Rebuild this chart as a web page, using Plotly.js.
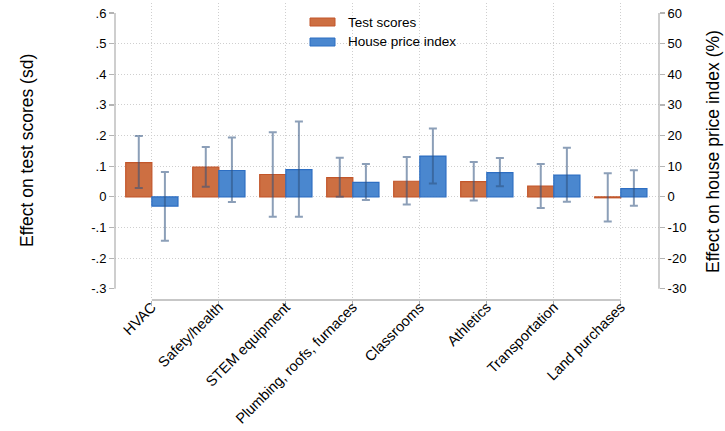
<!DOCTYPE html>
<html>
<head>
<meta charset="utf-8">
<script src="https://cdn.plot.ly/plotly-3.0.1.min.js"></script>
<style>html,body{margin:0;padding:0;background:#fff;}#chart{width:725px;height:431px;}</style>
</head>
<body>
<div id="chart"></div>
<script>
// ---- Data ----
const categories = ["HVAC", "Safety/health", "STEM equipment", "Plumbing, roofs, furnaces", "Classrooms", "Athletics", "Transportation", "Land purchases"];

// Test scores (sd), left axis
const testScores = [0.112, 0.097, 0.073, 0.063, 0.051, 0.050, 0.035, -0.003];
const testLower  = [0.029, 0.033, -0.065, 0.000, -0.025, -0.012, -0.036, -0.080];
const testUpper  = [0.199, 0.163, 0.211, 0.128, 0.130, 0.114, 0.107, 0.077];

// House price index (%), right axis
const housePrice = [-3.0, 8.6, 8.9, 4.7, 13.3, 7.9, 7.1, 2.7];
const houseLower = [-14.3, -1.7, -6.5, -1.0, 4.4, 3.5, -1.6, -2.9];
const houseUpper = [8.1, 19.4, 24.6, 10.7, 22.3, 12.7, 16.0, 8.7];

// Tick labels
const leftTickVals = [-0.3, -0.2, -0.1, 0, 0.1, 0.2, 0.3, 0.4, 0.5, 0.6];
const leftTickText = ["-.3", "-.2", "-.1", "0", ".1", ".2", ".3", ".4", ".5", ".6"];
const rightTickVals = [-30, -20, -10, 0, 10, 20, 30, 40, 50, 60];
const rightTickText = ["-30", "-20", "-10", "0", "10", "20", "30", "40", "50", "60"];
const gridVals = [-0.2, -0.1, 0, 0.1, 0.2, 0.3, 0.4, 0.5];

const seriesNames = ["Test scores", "House price index"];

// ---- Styles ----
const orangeFill = "#cd6f42";
const orangeLine = "#c2562a";
const blueFill = "#4a87cf";
const blueLine = "#2d6ec2";
const errColor = "rgba(45,80,125,0.55)";
const axisColor = "#b4b4b4";
const gridColor = "#cfcfcf";
const gridDash = "1px,2px";
const font = "Liberation Sans, Arial, Helvetica, sans-serif";

const errTest = {
  type: "data", symmetric: false,
  array: testUpper.map((u, i) => u - testScores[i]),
  arrayminus: testScores.map((v, i) => v - testLower[i]),
  color: errColor, thickness: 2, width: 4
};
const errHouse = {
  type: "data", symmetric: false,
  array: houseUpper.map((u, i) => u - housePrice[i]),
  arrayminus: housePrice.map((v, i) => v - houseLower[i]),
  color: errColor, thickness: 2, width: 4
};

const traces = [
  {
    type: "bar", x: categories, y: testScores, name: seriesNames[0],
    yaxis: "y", offsetgroup: "a",
    marker: {color: orangeFill, line: {color: orangeLine, width: 1.2}},
    error_y: errTest, showlegend: false, hoverinfo: "x+y"
  },
  {
    type: "bar", x: categories, y: housePrice, name: seriesNames[1],
    yaxis: "y2", offsetgroup: "b",
    marker: {color: blueFill, line: {color: blueLine, width: 1.2}},
    error_y: errHouse, showlegend: false, hoverinfo: "x+y"
  },
  {
    type: "scatter", x: [categories[0]], y: [0], yaxis: "y3",
    mode: "markers", marker: {opacity: 0}, showlegend: false, hoverinfo: "skip"
  }
];

const L = 115, R = 659, T = 3, B = 300;
const yMin = -0.3365, yMax = 0.6326;
const pw = R - L, ph = B - T;
const px = v => (v - L) / pw;
const py = v => (B - v) / ph;

const layout = {
  width: 725, height: 431,
  margin: {l: L, r: 725 - R, t: T, b: 431 - B, pad: 0},
  paper_bgcolor: "#fff", plot_bgcolor: "#fff",
  font: {family: font, size: 13, color: "#000"},
  barmode: "group", bargap: 0.22, bargroupgap: 0,
  showlegend: false,
  xaxis: {
    type: "category", range: [-0.55, categories.length - 1 + 0.57],
    showgrid: true, gridcolor: gridColor, griddash: gridDash, gridwidth: 1,
    showline: false, zeroline: false,
    ticks: "outside", ticklen: 5, tickcolor: axisColor, tickwidth: 1.2,
    tickangle: -45, ticklabelstandoff: -13,
    tickfont: {family: font, size: 14.5, color: "#000"}
  },
  yaxis: {
    range: [yMin, yMax], tickvals: leftTickVals, ticktext: leftTickText,
    showgrid: false, zeroline: false, showline: false,
    ticks: "outside", ticklen: 5, tickcolor: axisColor, tickwidth: 1.2,
    tickfont: {family: font, size: 13, color: "#000"}
  },
  yaxis2: {
    range: [yMin * 100, yMax * 100], tickvals: rightTickVals, ticktext: rightTickText,
    overlaying: "y", side: "right", anchor: "x",
    showgrid: false, zeroline: false, showline: false,
    ticks: "outside", ticklen: 5, tickcolor: axisColor, tickwidth: 1.2,
    tickfont: {family: font, size: 13, color: "#000"}
  },
  yaxis3: {
    range: [yMin, yMax], tickvals: gridVals, overlaying: "y",
    showgrid: true, gridcolor: gridColor, griddash: gridDash, gridwidth: 1,
    showticklabels: false, ticks: "", zeroline: false, showline: false
  },
  shapes: [
    {type: "line", xref: "paper", yref: "y", x0: 0, x1: 0, y0: leftTickVals[0], y1: leftTickVals[leftTickVals.length - 1], line: {color: axisColor, width: 1.3}},
    {type: "line", xref: "paper", yref: "y2", x0: 1, x1: 1, y0: rightTickVals[0], y1: rightTickVals[rightTickVals.length - 1], line: {color: axisColor, width: 1.3}},
    {type: "line", xref: "x", yref: "paper", x0: 0, x1: categories.length - 1, y0: 0, y1: 0, line: {color: axisColor, width: 1.3}},
    {type: "rect", xref: "paper", yref: "paper", x0: px(310), x1: px(335), y0: py(26), y1: py(18), fillcolor: orangeFill, line: {color: orangeLine, width: 1}},
    {type: "rect", xref: "paper", yref: "paper", x0: px(310), x1: px(335), y0: py(46), y1: py(38), fillcolor: blueFill, line: {color: blueLine, width: 1}}
  ],
  annotations: [
    {text: seriesNames[0], xref: "paper", yref: "paper", x: px(346), y: py(22), xanchor: "left", yanchor: "middle", showarrow: false, font: {family: font, size: 13.5, color: "#000"}},
    {text: seriesNames[1], xref: "paper", yref: "paper", x: px(346), y: py(42), xanchor: "left", yanchor: "middle", showarrow: false, font: {family: font, size: 13.5, color: "#000"}},
    {text: "Effect on test scores (sd)", xref: "paper", yref: "paper", x: px(27), y: py(151), xanchor: "center", yanchor: "middle", textangle: -90, showarrow: false, font: {family: font, size: 17.5, color: "#000"}},
    {text: "Effect on house price index (%)", xref: "paper", yref: "paper", x: px(713), y: py(152), xanchor: "center", yanchor: "middle", textangle: -90, showarrow: false, font: {family: font, size: 17.5, color: "#000"}}
  ]
};

Plotly.newPlot("chart", traces, layout, {displayModeBar: false, staticPlot: true});
</script>
</body>
</html>
